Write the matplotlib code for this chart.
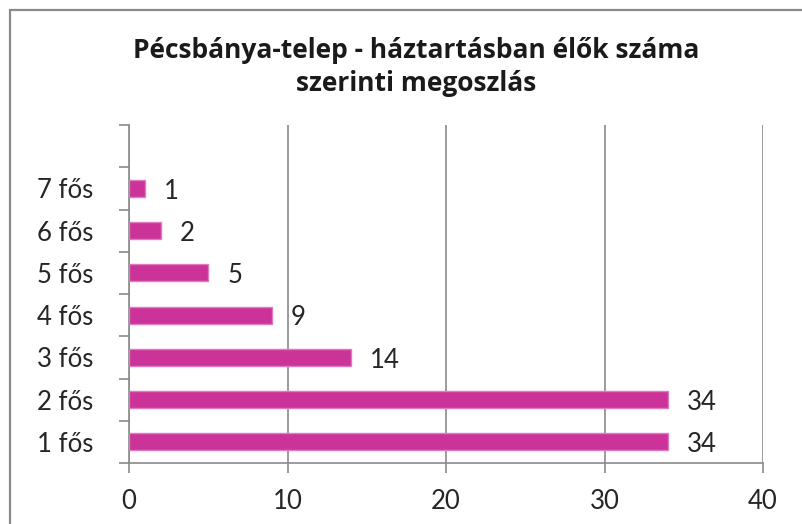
import matplotlib.pyplot as plt
from matplotlib.patches import Rectangle

# háztartás mérete szerinti megoszlás
kategoriak = ["1 fős", "2 fős", "3 fős", "4 fős", "5 fős", "6 fős", "7 fős"]
ertekek = [34, 34, 14, 9, 5, 2, 1]
x_tickek = [0, 10, 20, 30, 40]

plt.rcParams["font.family"] = ["Lato", "DejaVu Sans"]

W, H = 802, 524
fig = plt.figure(figsize=(W / 100, H / 100), dpi=100)
fig.patch.set_facecolor("white")

# külső keret (jobb és alsó széle kilóg a képből)
fig.patches.append(Rectangle((10 / W, -0.05), 1.0, 1 - 10 / H + 0.05,
                             transform=fig.transFigure, fill=False,
                             edgecolor="#8a8a8a", linewidth=1.6))

ax = fig.add_axes([129 / W, 1 - 463 / H, (763 - 129) / W, (463 - 125) / H])

pos = list(range(len(kategoriak)))
ax.barh(pos, ertekek, height=0.4, color="#cc3399", edgecolor="#e07ac0",
        linewidth=1.0, zorder=3)

for p, v in zip(pos, ertekek):
    ax.annotate(str(v), (v, p), xytext=(14, -2), textcoords="offset points",
                ha="left", va="center", fontsize=18.5, color="#262626")

ax.set_xlim(0, 40)
ax.set_ylim(-0.5, len(kategoriak) + 0.5)
ax.set_xticks(x_tickek)
ax.set_xticklabels([str(t) for t in x_tickek], fontsize=18.5, color="#262626")
ax.set_yticks(pos)
ax.set_yticklabels(kategoriak, fontsize=18.5, color="#262626")
ax.set_yticks([p - 0.5 for p in range(len(kategoriak) + 2)], minor=True)

ax.tick_params(axis="y", which="major", length=0, pad=26)
ax.tick_params(axis="y", which="minor", length=7, color="#8a8a8a", width=1.2)
ax.tick_params(axis="x", length=7, color="#8a8a8a", width=1.2, pad=12)

ax.grid(axis="x", color="#8a8a8a", linewidth=1.2, zorder=0)
for side in ("top", "right"):
    ax.spines[side].set_visible(False)
for side in ("left", "bottom"):
    ax.spines[side].set_color("#8a8a8a")
    ax.spines[side].set_linewidth(1.2)

fig.text(0.519, 1 - 67 / H,
         "Pécsbánya-telep - háztartásban élők száma\nszerinti megoszlás",
         ha="center", va="center", fontsize=19, fontweight="bold",
         family=["Open Sans", "DejaVu Sans"], color="#1a1a1a", linespacing=1.3)

fig.savefig("out.png", dpi=100)
